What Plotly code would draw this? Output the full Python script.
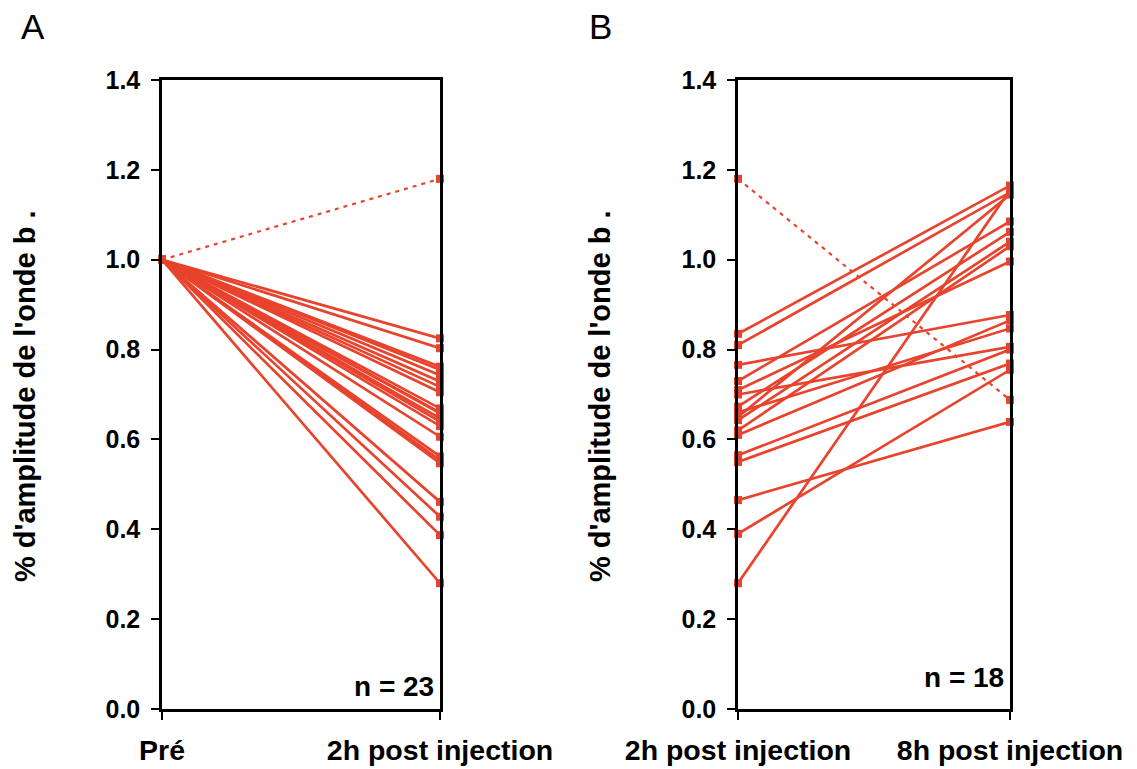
import plotly.graph_objects as go

# ---- data ----
a_categories = ["Pré", "2h post injection"]
b_categories = ["2h post injection", "8h post injection"]
y_ticks = [0.0, 0.2, 0.4, 0.6, 0.8, 1.0, 1.2, 1.4]

a_pre = [1.0] * 22
a_post = [0.825, 0.803, 0.762, 0.755, 0.743, 0.729, 0.717, 0.705, 0.669, 0.66,
          0.658, 0.647, 0.64, 0.63, 0.606, 0.562, 0.554, 0.547, 0.461, 0.428,
          0.387, 0.28]
a_dash_pre = [1.0]
a_dash_post = [1.18]

b_2h = [0.835, 0.81, 0.28, 0.65, 0.39, 0.465, 0.766, 0.73, 0.71, 0.70,
        0.673, 0.66, 0.643, 0.62, 0.61, 0.565, 0.55]
b_8h = [1.165, 1.15, 1.155, 1.145, 0.755, 0.639, 0.877, 1.085, 0.996, 0.806,
        1.062, 0.847, 1.04, 1.03, 0.865, 0.80, 0.769]
b_dash_2h = [1.18]
b_dash_8h = [0.688]

n_labels = ["n = 23", "n = 18"]
y_title = "% d'amplitude de l'onde b ."
panel_letters = ["A", "B"]

RED = "#E8432D"
FONT = "Liberation Sans"


def seg(left, right):
    xs, ys = [], []
    for l, r in zip(left, right):
        xs += [0, 1, None]
        ys += [l, r, None]
    return xs, ys


fig = go.Figure()

for (left, right, dash_l, dash_r, xa, ya) in [
    (a_pre, a_post, a_dash_pre, a_dash_post, "x", "y"),
    (b_2h, b_8h, b_dash_2h, b_dash_8h, "x2", "y2"),
]:
    xs, ys = seg(dash_l, dash_r)
    fig.add_trace(go.Scatter(x=xs, y=ys, mode="lines", xaxis=xa, yaxis=ya,
                             line=dict(color=RED, width=2.2, dash="4px,5px"),
                             cliponaxis=False, showlegend=False))
    xs, ys = seg(left, right)
    fig.add_trace(go.Scatter(x=xs, y=ys, mode="lines+markers", xaxis=xa, yaxis=ya,
                             line=dict(color=RED, width=2.7),
                             marker=dict(symbol="square", size=8, color=RED),
                             cliponaxis=False, showlegend=False))
    xs, ys = seg(dash_l, dash_r)
    fig.add_trace(go.Scatter(x=xs, y=ys, mode="markers", xaxis=xa, yaxis=ya,
                             marker=dict(symbol="square", size=8, color=RED),
                             cliponaxis=False, showlegend=False))

W, H = 1137, 769
ydom = [(H - 709) / H, (H - 80) / H]

axis_common = dict(showline=True, linecolor="black", linewidth=2.5, mirror=True,
                   ticks="outside", ticklen=8, tickwidth=2, tickcolor="black",
                   showgrid=False, zeroline=False, automargin=False)
xfont = dict(family=FONT, size=28.5, color="black", weight="bold")
yfont = dict(family=FONT, size=25, color="black", weight="bold")

fig.update_layout(
    width=W, height=H,
    margin=dict(l=0, r=0, t=0, b=0),
    paper_bgcolor="white", plot_bgcolor="white",
    xaxis=dict(domain=[162 / W, 440 / W], range=[0, 1], tickvals=[0, 1],
               ticktext=a_categories, ticklabelstandoff=6, anchor="y",
               tickfont=xfont, **axis_common),
    yaxis=dict(domain=ydom, range=[0, 1.4], tickvals=y_ticks,
               ticktext=[f"{v:.1f}" for v in y_ticks], ticklabelstandoff=6,
               anchor="x", tickfont=yfont, **axis_common),
    xaxis2=dict(domain=[738 / W, 1010 / W], range=[0, 1], tickvals=[0, 1],
                ticktext=b_categories, ticklabelstandoff=6, anchor="y2",
                tickfont=xfont, **axis_common),
    yaxis2=dict(domain=ydom, range=[0, 1.4], tickvals=y_ticks,
                ticktext=[f"{v:.1f}" for v in y_ticks], ticklabelstandoff=6,
                anchor="x2", tickfont=yfont, **axis_common),
)

ann = []
# y-axis titles
for xc in [25, 600]:
    ann.append(dict(x=xc / W, y=(H - 397) / H, xref="paper", yref="paper",
                    text=y_title, textangle=-90, showarrow=False,
                    xanchor="center", yanchor="middle",
                    font=dict(family=FONT, size=29, color="black", weight="bold")))
# panel letters
for xc, letter in zip([33, 600], panel_letters):
    ann.append(dict(x=xc / W, y=(H - 27) / H, xref="paper", yref="paper",
                    text=letter, showarrow=False, xanchor="center", yanchor="middle",
                    font=dict(family=FONT, size=35, color="black")))
# n labels
for (xr, yc), lab in zip([(436, 686), (1006, 677)], n_labels):
    ann.append(dict(x=xr / W, y=(H - yc) / H, xref="paper", yref="paper",
                    text=lab, showarrow=False, xanchor="right", yanchor="middle",
                    font=dict(family=FONT, size=28, color="black", weight="bold")))
fig.update_layout(annotations=ann)

fig.write_html("out.html")
